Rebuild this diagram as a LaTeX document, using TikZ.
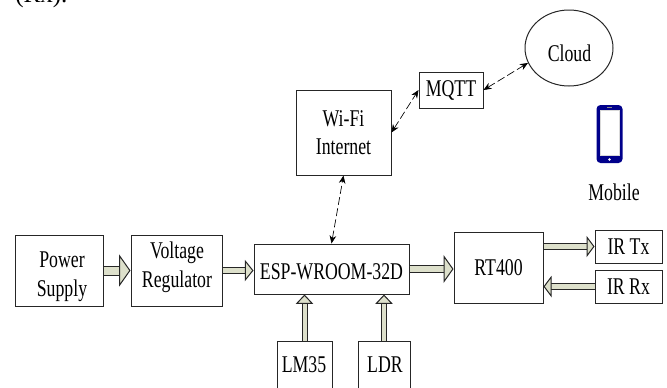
\documentclass[tikz,border=0pt]{standalone}
\usepackage{fontspec}
\setmainfont[FakeStretch=0.74]{Liberation Serif}
\newfontfamily\notefont{Liberation Serif}
\usetikzlibrary{arrows.meta,shapes.geometric,positioning}
\definecolor{arrowfill}{RGB}{221,224,203}
\definecolor{phoneblue}{RGB}{0,0,139}
\tikzset{block/.style 2 args={rectangle,draw=black!85,line width=0.75pt,align=center,inner sep=0pt,
            minimum width=#1*0.75pt,minimum height=#2*0.75pt,font=\fontsize{18}{21.5}\selectfont},
         cloud node/.style={ellipse,draw=black!85,line width=0.75pt,inner sep=0pt,
            minimum width=66pt,minimum height=57pt},
         plain label/.style={inner sep=0pt,align=center,font=\fontsize{18}{21.5}\selectfont},
         power arrow/.style n args={3}{draw=black!85,line width=0.75pt,double=arrowfill,double distance=#1,
            -{Triangle[open,fill=arrowfill,length=#2,width=#3]}},
         data link/.style={{Stealth[length=6pt,width=5pt]}-{Stealth[length=6pt,width=5pt]},
            line width=0.5pt,dashed,dash pattern=on 6pt off 2.5pt}
}
\begin{document}
\begin{tikzpicture}[x=0.75pt,y=-0.75pt]
\useasboundingbox (0,0) rectangle (667,387);
\node [inner sep=0pt, anchor=base west, font=\notefont\fontsize{18.75}{22}\selectfont] (note) at (15,2) {(Rx).};

\node [block={88}{71}] (supply) at (59,270.5) {};
\node [plain label] (supply text) at (62,277) {Power\\Supply};
\node [block={91}{71}] (regulator) at (176.5,270.5) {};
\node [plain label] (regulator text) at (177,267.5) {Voltage\\Regulator};
\node [block={155}{50}] (esp) at (331.5,269) {};
\node [plain label] (esp text) at (331.5,272) {ESP-WROOM-32D};
\node [block={89}{71}] (rt) at (498.5,267.5) {RT400};
\node [block={67}{33}] (tx) at (628.5,246.5) {IR Tx};
\node [block={67}{33}] (rx) at (628.5,286.5) {IR Rx};
\node [block={55}{54}] (lm) at (304.5,368) {};
\node [plain label] (lm text) at (304,365) {LM35};
\node [block={52}{54}] (ldr) at (384,368) {};
\node [plain label] (ldr text) at (385,365) {LDR};
\node [block={95}{85}] (wifi) at (343.5,132.5) {Wi-Fi\\Internet};
\node [block={64}{36}] (mqtt) at (451,90) {MQTT};
\node [cloud node] (cloud) at (569,48) {};
\node [plain label] (cloud text) at (569.5,53) {Cloud};

% phone icon
\node [rectangle,rounded corners=3pt,fill=phoneblue,minimum width=19.5pt,minimum height=43.5pt,inner sep=0pt] (phone) at (609.5,134) {};
\node [rectangle,fill=white,draw=black!15,line width=0.3pt,minimum width=14.5pt,minimum height=33.75pt,inner sep=0pt] (screen) at (609.5,132.5) {};
\node [rectangle,fill=black!45,minimum width=3.5pt,minimum height=0.8pt,inner sep=0pt] (speaker) at (609.5,107.5) {};
\node [circle,fill=white,minimum size=2.2pt,inner sep=0pt] (button) at (609.5,159.5) {};
\node [plain label] (mobile) at (614,192) {Mobile};

\draw [power arrow={6pt}{8.5pt}{24pt}] (supply.east) -- (regulator.west);
\draw [power arrow={4pt}{6.5pt}{16pt}] (regulator.east) -- (regulator.east -| esp.west);
\draw [power arrow={4.5pt}{7.5pt}{21pt}] (esp.east) -- (esp.east -| rt.west);
\draw [power arrow={4pt}{6pt}{16pt}] (tx.west -| rt.east) -- (tx.west);
\draw [power arrow={4pt}{6pt}{16pt}] (rx.west) -- (rx.west -| rt.east);
\draw [power arrow={3pt}{7pt}{13pt}] (lm.north) -- (lm.north |- esp.south);
\draw [power arrow={3pt}{7pt}{13pt}] (ldr.north) -- (ldr.north |- esp.south);

\draw [data link] (esp.north) -- (wifi.south);
\draw [data link] (wifi.east) -- (mqtt.west);
\draw [data link] (mqtt.east) -- (cloud.200);
\end{tikzpicture}
\end{document}
